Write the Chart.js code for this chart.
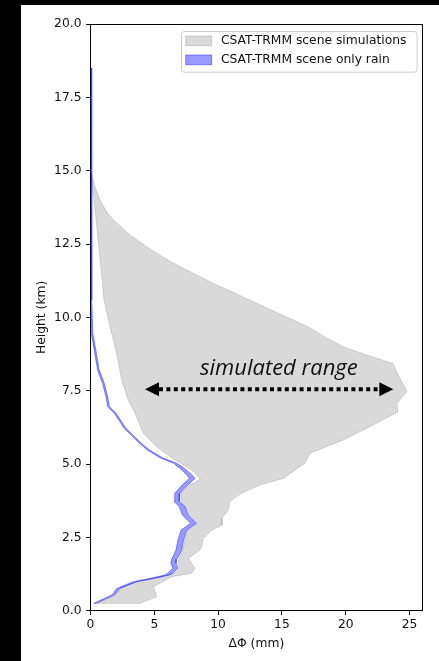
<!DOCTYPE html>
<html>
<head>
<meta charset="utf-8">
<script src="https://cdn.jsdelivr.net/npm/chart.js@4"></script>
<style>
  html, body { margin: 0; padding: 0; background: #000; width: 439px; height: 661px; overflow: hidden; }
  #frame { position: absolute; left: 21px; top: 5px; width: 418px; height: 656px; background: #fff; }
  canvas { display: block; }
</style>
</head>
<body>
<div id="frame"><canvas id="chart" width="418" height="656"></canvas></div>
<script>
// Axis ticks
const xTicks = [0, 5, 10, 15, 20, 25];
const yTicks = [0, 2.5, 5, 7.5, 10, 12.5, 15, 17.5, 20];

// Envelope of all scene simulations: left edge (bottom -> top), ΔΦ in mm vs height in km
const simLeftH = [0.25, 0.52, 0.78, 1.0, 1.12, 1.25, 1.33, 1.45, 1.62, 1.75, 1.9, 2.1, 2.41, 2.75, 2.98,
                  3.26, 3.5, 3.72, 4.0, 4.29, 4.48, 4.75, 5.14, 5.59, 6.05, 6.73, 7.1, 7.25, 7.87, 8.78,
                  9.68, 10.6, 11.5, 12.3, 13.2, 13.9, 14.4, 14.75, 14.95];
const simLeftV = [0.55, 1.95, 2.35, 3.7, 5.0, 6.35, 6.75, 6.95, 6.85, 6.9, 7.1, 7.25, 7.4, 7.65, 8.4,
                  7.75, 7.5, 7.1, 7.1, 7.8, 8.6, 8.1, 6.62, 5.19, 4.14, 3.49, 3.05, 2.9, 2.44, 2.05,
                  1.53, 1.05, 0.86, 0.68, 0.47, 0.3, 0.17, 0.07, 0.0];

// Envelope of all scene simulations: right edge (top -> bottom)
const simRightH = [14.95, 14.75, 14.46, 14.0, 13.6, 13.32, 12.81, 12.58, 12.41, 12.05, 11.73, 11.45,
                   11.16, 10.8, 10.42, 10.1, 9.91, 9.64, 9.3, 9.0, 8.72,
                   8.43, 8.04, 7.47, 7.07, 6.78, 6.3, 5.82, 5.37, 5.03, 4.51, 4.29, 4.0, 3.72, 3.43,
                   3.15, 2.92, 2.75, 2.47, 2.18, 2.07, 1.79, 1.45, 1.28, 1.16, 0.82, 0.48, 0.25];
const simRightV = [0.0, 0.15, 0.35, 0.74, 1.27, 1.79, 3.1, 3.85, 4.4, 5.7, 7.0, 8.3,
                   9.6, 11.45, 13.3, 14.9, 15.9, 17.2, 18.5, 19.8, 21.6,
                   23.7, 24.1, 24.8, 24.0, 24.1, 22.0, 19.8, 17.2, 16.8, 15.1, 13.3, 11.8, 10.9, 10.8,
                   10.3, 10.3, 9.5, 8.84, 8.71, 8.58, 7.67, 8.19, 7.93, 6.36, 4.92, 5.19, 3.88];

// Only-rain scene: lower and upper ΔΦ at each height
const rainH   = [0.25, 0.54, 0.76, 0.99, 1.1, 1.22, 1.28, 1.45, 1.62, 1.75, 1.88, 2.07, 2.41, 2.75, 2.98,
                 3.26, 3.55, 3.72, 4.0, 4.29, 4.51, 4.63, 4.86, 5.03, 5.2, 5.48, 5.71, 6.22, 6.73, 6.96,
                 7.3, 7.75, 8.21, 8.89, 9.46, 10.6, 18.5];
const rainMin = [0.25, 1.7, 2.05, 3.35, 4.65, 5.85, 6.05, 6.45, 6.3, 6.35, 6.5, 6.7, 6.85, 7.1, 7.85,
                 7.2, 6.95, 6.55, 6.6, 7.2, 7.75, 7.55, 7.0, 6.5, 5.5, 4.45, 3.83, 2.64, 1.86, 1.34,
                 1.21, 0.94, 0.55, 0.29, 0.06, 0.0, 0.0];
const rainMax = [0.45, 1.9, 2.3, 3.65, 5.0, 6.2, 6.45, 6.85, 6.7, 6.75, 6.95, 7.15, 7.3, 7.55, 8.3,
                 7.65, 7.4, 6.95, 7.0, 7.65, 8.2, 7.95, 7.35, 6.75, 5.7, 4.62, 3.98, 2.78, 2.0, 1.48,
                 1.35, 1.08, 0.68, 0.42, 0.18, 0.1, 0.08];

// Annotation: double arrow across the simulated spread and its caption
const rangeArrow = { from: 4.27, to: 23.73, height: 7.55 };
const rangeCaption = { text: 'simulated range', x: 8.58, height: 8.04 };

const labelSims = 'CSAT-TRMM scene simulations';
const labelRain = 'CSAT-TRMM scene only rain';

// Closed outline: one edge going up, the other coming back down
function outline(upH, upV, downH, downV) {
  const pts = [];
  for (let i = 0; i < upH.length; i++) pts.push({ x: upV[i], y: upH[i] });
  for (let i = 0; i < downH.length; i++) pts.push({ x: downV[i], y: downH[i] });
  pts.push({ x: upV[0], y: upH[0] });
  return pts;
}
const rainDownH = rainH.slice().reverse();
const rainDownMax = rainMax.slice().reverse();

const simPoly = outline(simLeftH, simLeftV, simRightH, simRightV);
const rainPoly = outline(rainH, rainMin, rainDownH, rainDownMax);

const FONT = { family: 'DejaVu Sans', size: 12.3 };
const TEXT = '#111';

const spines = {
  id: 'spines',
  afterDatasetsDraw(chart) {
    const { ctx, chartArea: a } = chart;
    const l = Math.floor(a.left) + 0.5, t = Math.floor(a.top) + 0.5;
    const r = Math.floor(a.right) + 0.5, b = Math.floor(a.bottom) + 0.5;
    ctx.save();
    ctx.strokeStyle = '#000';
    ctx.lineWidth = 1;
    ctx.strokeRect(l, t, r - l, b - t);
    ctx.restore();
  }
};

const rangeMarker = {
  id: 'rangeMarker',
  afterDatasetsDraw(chart) {
    const { ctx, scales: { x, y } } = chart;
    const x0 = x.getPixelForValue(rangeArrow.from);
    const x1 = x.getPixelForValue(rangeArrow.to);
    const yy = y.getPixelForValue(rangeArrow.height);
    const head = 14, half = 7;
    ctx.save();
    ctx.strokeStyle = '#000';
    ctx.fillStyle = '#000';
    ctx.lineWidth = 4;
    ctx.lineCap = 'butt';
    ctx.setLineDash([4, 3.4]);
    ctx.beginPath();
    ctx.moveTo(x0 + head, yy);
    ctx.lineTo(x1 - head, yy);
    ctx.stroke();
    ctx.setLineDash([]);
    ctx.beginPath();
    ctx.moveTo(x0, yy);
    ctx.lineTo(x0 + head, yy - half);
    ctx.lineTo(x0 + head, yy + half);
    ctx.closePath();
    ctx.fill();
    ctx.beginPath();
    ctx.moveTo(x1, yy);
    ctx.lineTo(x1 - head, yy - half);
    ctx.lineTo(x1 - head, yy + half);
    ctx.closePath();
    ctx.fill();
    ctx.font = 'italic 22px "Open Sans"';
    ctx.textAlign = 'left';
    ctx.textBaseline = 'alphabetic';
    ctx.fillStyle = '#111';
    ctx.fillText(rangeCaption.text, x.getPixelForValue(rangeCaption.x), y.getPixelForValue(rangeCaption.height));
    ctx.restore();
  }
};

const boxedLegend = {
  id: 'boxedLegend',
  afterDraw(chart) {
    const { ctx, chartArea: a } = chart;
    const right = a.right - 5.6, top = a.top + 7, w = 235.7, h = 40.7;
    const left = right - w;
    ctx.save();
    ctx.beginPath();
    ctx.roundRect(left + 0.5, top + 0.5, w, h, 3);
    ctx.fillStyle = 'rgba(255,255,255,0.8)';
    ctx.fill();
    ctx.strokeStyle = '#cccccc';
    ctx.lineWidth = 1;
    ctx.stroke();
    ctx.font = '12.3px "DejaVu Sans"';
    ctx.textBaseline = 'middle';
    ctx.textAlign = 'left';
    chart.data.datasets.forEach((ds, i) => {
      const py = top + 5 + i * 19;
      ctx.fillStyle = ds.backgroundColor;
      ctx.fillRect(left + 4.7, py, 26, 9.7);
      ctx.strokeStyle = ds.borderColor;
      ctx.strokeRect(left + 4.7, py, 26, 9.7);
      ctx.fillStyle = TEXT;
      ctx.fillText(ds.label, left + 40, py + 5);
    });
    ctx.restore();
  }
};

new Chart(document.getElementById('chart'), {
  type: 'line',
  data: {
    datasets: [
      {
        label: labelSims,
        data: simPoly,
        fill: 'shape',
        backgroundColor: 'rgba(128,128,128,0.3)',
        borderColor: 'rgba(128,128,128,0.3)',
        borderWidth: 1,
        pointRadius: 0,
        tension: 0,
        order: 2
      },
      {
        label: labelRain,
        data: rainPoly,
        fill: 'shape',
        backgroundColor: 'rgba(0,0,255,0.4)',
        borderColor: 'rgba(0,0,255,0.4)',
        borderWidth: 1,
        pointRadius: 0,
        tension: 0,
        order: 1
      }
    ]
  },
  options: {
    responsive: false,
    animation: false,
    events: [],
    layout: { padding: { top: 19, right: 16.7, left: 0, bottom: 0 } },
    plugins: { legend: { display: false }, tooltip: { enabled: false } },
    scales: {
      x: {
        type: 'linear',
        min: 0,
        max: 26,
        afterBuildTicks: s => { s.ticks = xTicks.map(v => ({ value: v })); },
        afterFit: s => { s.height = 50.3; },
        ticks: { font: FONT, color: TEXT, padding: 2.5, maxRotation: 0, autoSkip: false, callback: v => String(v) },
        grid: { drawOnChartArea: false, tickLength: 4.3, color: '#000', tickWidth: 1 },
        border: { display: false },
        title: { display: true, text: 'ΔΦ (mm)', font: FONT, color: TEXT, padding: { top: 0, bottom: 10.1 } }
      },
      y: {
        type: 'linear',
        min: 0,
        max: 20,
        afterBuildTicks: s => { s.ticks = yTicks.map(v => ({ value: v })); },
        afterFit: s => { s.width = 69.5; },
        ticks: { font: FONT, color: TEXT, padding: 4.7, autoSkip: false, callback: v => v.toFixed(1) },
        grid: { drawOnChartArea: false, tickLength: 4.3, color: '#000', tickWidth: 1 },
        border: { display: false },
        title: { display: true, text: 'Height (km)', font: FONT, color: TEXT, padding: { top: 13.3, bottom: 0 } }
      }
    }
  },
  plugins: [spines, rangeMarker, boxedLegend]
});
</script>
</body>
</html>
